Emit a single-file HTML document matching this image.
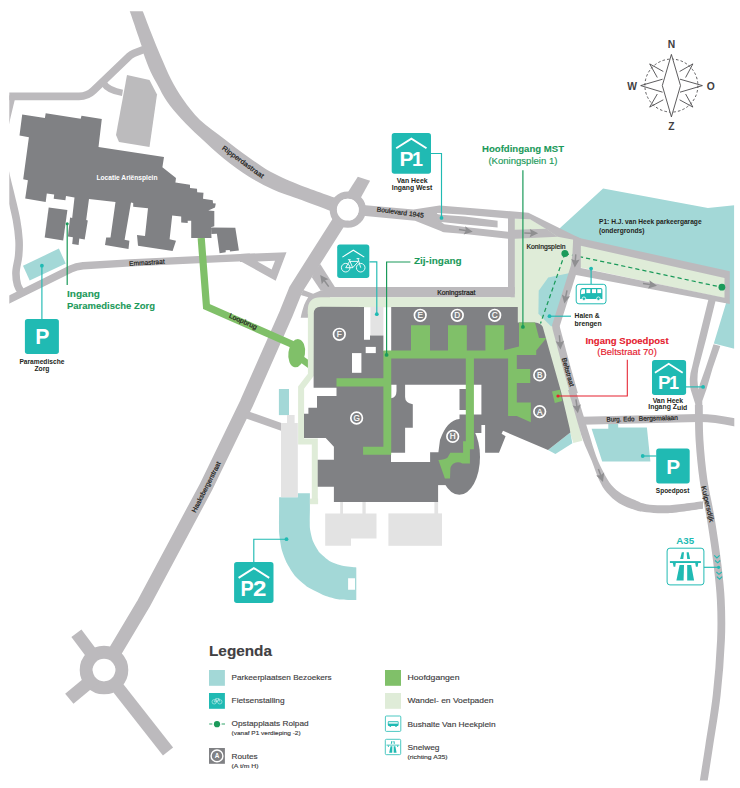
<!DOCTYPE html>
<html lang="nl"><head><meta charset="utf-8"><title>Plattegrond MST</title>
<style>
html,body{margin:0;padding:0;background:#fff;}
body{width:740px;height:788px;overflow:hidden;font-family:"Liberation Sans",sans-serif;}
svg{display:block;position:absolute;left:0;top:0;}
text{font-family:"Liberation Sans",sans-serif;}
.b{font-weight:bold;}
.slab{font-family:"Liberation Sans","DejaVu Sans",sans-serif;font-weight:bold;}
</style></head><body>
<svg width="740" height="788" viewBox="0 0 740 788">
<defs><clipPath id="mapclip"><rect x="9.3" y="11.3" width="725" height="769.2"/></clipPath></defs>
<rect width="740" height="788" fill="#fff"/>
<g clip-path="url(#mapclip)">
<g fill="#dfecd8">
<path d="M510,330 L510,219 L530,219 L546,228.6 L575,240 L575,268 L556,327 L582.4,440.7 L573.3,443 L560,400 L540,330 Z"/>
<polygon points="578.0,244.0 725.0,277.5 725.0,298.3 578.0,267.0" fill="#dfecd8" />
</g>
<g fill="#a3d8d7">
<polygon points="603.1,188.5 707.9,208.0 734.3,205.2 734.4,348.8 713.8,343.5 727.0,300.0 727.0,275.0 580.5,244.0 562.0,232.0 559.5,228.5" fill="#a3d8d7" />
<polygon points="548.2,277.5 570.0,273.0 562.2,300.0 554.0,326.3 551.0,326.3 538.4,313.8 538.7,290.7" fill="#a3d8d7" />
<polygon points="23.0,265.7 58.9,248.6 65.7,263.5 29.7,280.5" fill="#a3d8d7" />
<polygon points="591.6,428.8 608.3,428.8 608.3,424.0 618.2,424.0 618.2,427.5 646.9,427.5 650.4,461.6 602.2,461.6" fill="#a3d8d7" />
<polygon points="548.0,450.0 555.4,454.0 572.4,443.2 570.3,432.4" fill="#a3d8d7" />
<rect x="278.9" y="389" width="10.1" height="26.1"/>
<path fill-rule="evenodd" d="M279.1,497.3 L297.8,497.3 L297.8,493.2 L309.9,493.2 L309.9,510 L309.9,510.0 C309.9,511.5 309.6,525.3 309.9,527.9 C310.1,530.5 312.1,538.9 312.9,541.0 C313.7,543.1 318.1,550.9 319.5,552.6 C320.9,554.3 327.5,559.8 329.4,560.9 C331.3,562.0 340.4,565.2 342.6,565.8 C344.8,566.3 355.2,567.4 356.3,567.5 L356.3,600.1 L356.3,600.1 C354.9,600.1 341.9,600.0 339.3,599.6 C336.7,599.2 327.1,596.5 324.5,595.5 C321.9,594.5 310.5,588.9 308.0,587.3 C305.5,585.6 296.6,577.8 294.8,575.7 C293.0,573.6 287.6,564.7 286.5,562.5 C285.4,560.3 282.2,551.8 281.6,549.3 C281.0,546.8 279.3,536.1 279.1,532.8 C278.9,529.5 279.1,511.9 279.1,510.0 L279.1,497.3 Z M348.1,578.2 L355,578.2 L355,589.7 L348.1,589.7 Z"/>
</g>
<polyline points="564.9,253.5 722.0,287.3" fill="none" stroke="#1b9a5a" stroke-width="1.25" stroke-dasharray="4.2 3"/>
<polyline points="564.9,253.5 540.5,323.5" fill="none" stroke="#1b9a5a" stroke-width="1.25" stroke-dasharray="4.2 3"/>
<g fill="none" stroke="#bcbabd" stroke-linejoin="round">
<path d="M127.7,5.0 C128.1,6.1 127.7,5.0 130.0,11.8 C132.3,18.6 139.3,38.7 141.6,45.7 C143.9,52.7 142.1,49.4 143.6,53.8 C145.1,58.2 148.3,66.8 150.7,72.0 C153.1,77.2 155.1,80.3 157.8,85.2 C160.5,90.1 163.1,95.9 167.0,101.5 C170.9,107.1 175.7,112.7 181.2,118.7 C186.7,124.7 192.8,130.6 200.0,137.3 C207.2,144.0 216.2,152.5 224.3,159.0 C232.4,165.5 240.5,171.3 248.6,176.4 C256.7,181.5 264.9,185.8 273.0,189.5 C281.1,193.2 287.0,194.7 297.3,198.5 C307.6,202.3 328.7,210.2 335.0,212.5 L340.0,199.5 C332.9,196.9 308.9,188.5 297.3,183.9 C285.7,179.3 278.6,176.2 270.5,171.8 C262.4,167.4 256.3,162.7 248.6,157.2 C240.9,151.7 232.4,145.1 224.3,138.9 C216.2,132.7 206.8,126.6 200.0,120.0 C193.2,113.4 188.0,106.3 183.2,99.5 C178.4,92.7 174.7,86.3 171.0,79.2 C167.3,72.1 164.1,64.2 160.9,56.8 C157.7,49.3 154.8,42.0 151.8,34.5 C148.8,27.0 144.9,16.7 143.0,11.8 C141.1,6.9 140.8,6.1 140.4,5.0 Z" fill="#bcbabd" stroke="none"/>
<path d="M5,96.4 L79,96.4 Q87.5,96.4 93.5,90.5 L129.5,56 Q131.5,54.2 134,53.2 L145,49" stroke-width="7.6"/>
<path d="M103.5,83 Q108,90.5 122.5,92.8" stroke-width="6.4"/>
<path d="M11.8,96.0 C11.0,99.3 8.5,109.3 7.0,116.0 C5.5,122.7 3.8,129.5 3.0,136.0 C2.2,142.5 2.0,148.3 2.5,155.0 C3.0,161.7 4.7,169.0 6.2,176.0 C7.7,183.0 9.6,189.7 11.3,197.0 C13.0,204.3 15.2,212.8 16.5,220.0 C17.8,227.2 18.6,234.0 19.0,240.0 C19.4,246.0 19.1,250.7 18.6,256.0 C18.1,261.3 16.2,267.2 16.0,272.0 C15.8,276.8 16.5,281.5 17.5,285.0 C18.5,288.5 21.2,291.7 22.0,293.0" fill="none" stroke="#bcbabd" stroke-width="7.6" />
<path d="M5,301.7 L71,268.9 Q76,266.4 83,265.7 L130,262.9 L220,258.6 L250,257.3" stroke-width="7.4"/>
<polyline points="347.6,210.3 337.7,223.6 295.8,289.6 286.3,313.2 246.7,402.9 206.0,486.9 143.8,603.3 104.0,670.0" fill="none" stroke="#bcbabd" stroke-width="13.8" />
<polyline points="246.0,414.5 283.0,427.5" fill="none" stroke="#bcbabd" stroke-width="7.6" />
<circle cx="104" cy="670" r="17.8" stroke-width="13"/>
<polyline points="104.0,670.0 76.4,633.3" fill="none" stroke="#bcbabd" stroke-width="12.6" />
<polyline points="104.0,670.0 69.3,698.8" fill="none" stroke="#bcbabd" stroke-width="13" />
<polyline points="104.0,670.0 168.0,751.5" fill="none" stroke="#bcbabd" stroke-width="12.9" />
<circle cx="347.8" cy="209.7" r="14.5" stroke-width="7.3"/>
<polygon points="357.8,176.7 370.1,180.7 359.0,201.0 345.5,196.0" fill="#bcbabd" stroke="none"/>
<polyline points="577.0,238.0 576.3,253.0 574.6,266.5 555.9,325.5 556.3,328.5 566.3,366.0 574.2,394.0" fill="none" stroke="#bcbabd" stroke-width="7.6" stroke-linejoin="miter"/>
<path d="M568.0,390.0 C568.5,391.6 569.6,395.0 571.0,399.6 C572.4,404.2 574.3,411.0 576.3,417.9 C578.3,424.8 580.7,433.6 583.2,440.7 C585.8,447.8 588.9,453.9 591.6,460.5 C594.3,467.1 596.7,475.0 599.2,480.3 C601.7,485.6 603.5,488.7 606.8,492.5 C610.1,496.3 614.3,500.3 619.0,503.2 C623.7,506.1 630.4,508.5 635.0,510.0 C639.6,511.5 641.0,511.7 646.5,512.2 C652.0,512.7 658.7,513.8 668.1,513.2 C677.5,512.6 697.2,509.4 703.0,508.7 L703.0,501.2 C697.2,501.9 677.5,504.7 668.1,505.2 C658.7,505.7 652.0,505.0 646.5,504.2 C641.0,503.4 639.1,501.8 635.0,500.1 C630.9,498.4 625.9,496.5 622.0,494.0 C618.1,491.5 614.4,488.4 611.4,484.9 C608.4,481.3 606.3,477.5 603.8,472.7 C601.2,467.9 598.5,462.4 596.1,456.0 C593.7,449.6 591.4,441.5 589.3,434.6 C587.1,427.7 585.0,420.6 583.2,414.8 C581.4,409.0 579.9,403.7 578.6,399.6 C577.3,395.5 576.1,391.6 575.6,390.0 Z" fill="#bcbabd" stroke="none"/>
<path d="M582,420.8 L698.4,417.9 Q712,417.6 736,422.5" stroke-width="8"/>
<path d="M698.8,405.0 C698.9,410.8 698.7,427.5 699.5,440.0 C700.3,452.5 701.6,466.7 703.5,480.0 C705.4,493.3 708.7,505.8 711.0,520.0 C713.3,534.2 715.9,551.7 717.5,565.0 C719.1,578.3 720.2,587.5 720.8,600.0 C721.4,612.5 721.7,624.2 721.0,640.0 C720.3,655.8 718.7,677.5 716.7,695.0 C714.8,712.5 711.5,730.3 709.3,745.0 C707.1,759.7 704.4,776.7 703.4,783.0" fill="none" stroke="#bcbabd" stroke-width="7.8" />
<path fill-rule="evenodd" stroke="none" fill="#bcbabd" d="M575,236 L580.5,238.3 L729.8,271.2 L729.8,303.9 L574.7,274.8 Z M580.8,245.7 L724.5,278 L724.5,297.8 L580.8,268.1 Z"/>
</g>
<circle cx="347.8" cy="209.7" r="10.9" fill="#fff"/><circle cx="104" cy="670" r="11.3" fill="#fff"/>
<g fill="#bcbabd">
<path d="M708.5,299 L698.4,339.7 L692.3,366 Q688,380 690.8,390 L695.2,403.7 L695.2,416 L702.3,416 L702.3,401 L706.4,389.5 L712.6,368.2 L720.3,346 L713.5,344.2 L705.5,368.2 L699.8,384.2 L698.8,389.5 Q696.3,381 698.4,368.2 L706.4,338 L716,299 Z"/>
<path fill-rule="evenodd" d="M240,253.9 L286.5,252.3 L275.7,280.7 L241.9,262 L240,262 Z M257.4,261.4 L275,260.8 L271.6,269.5 Z"/>
<polygon points="320.2,263.9 334.9,287.0 334.9,293.0 320.7,290.6 311.8,277.2 315.0,270.0" fill="#bcbabd" />
<path d="M303.3,290.1 L313.1,293.7 L320.7,290.6 L330,290 L330,300 L315,312 L307.8,317.7 L300.7,317.7 Q301.6,312.8 304.2,304.8 Q306,300.5 308.2,297.2 L300.7,295 Z"/>
<polygon points="360.0,204.7 413.5,209.5 439.5,205.4 528.4,212.7 580.5,238.6 581.0,246.0 573.8,246.0 573.6,239.8 557.6,236.8 546.2,228.9 530.0,219.2 508.0,218.6 465.0,214.7 436.9,213.1 439.0,217.0 441.2,222.0 444.3,224.3 443.9,232.3 415.0,220.8 360.0,215.4" fill="#bcbabd" />
<polygon points="441.5,224.6 444.3,224.3 465.0,227.0 508.0,231.8 515.0,229.7 546.2,228.8 557.6,236.8 515.0,238.8 508.0,238.8 465.0,233.9 443.9,232.3 441.5,231.0" fill="#bcbabd" />
<polygon points="435.0,213.8 441.2,214.7 465.0,216.6 497.6,220.8 497.6,227.6 465.0,224.5 441.2,222.0 437.0,221.0" fill="#bcbabd" />
<rect x="508" y="216" width="6.8" height="78"/>
<rect x="325" y="287" width="189.8" height="10.3"/>
</g>
</g>
<polyline points="201.2,238.0 206.5,306.5 296.0,346.0" fill="none" stroke="#80c069" stroke-width="7.2" stroke-linejoin="miter"/>
<ellipse fill="#80c069" cx="296.7" cy="353.2" rx="8.3" ry="14.2" transform="rotate(8 296.7 353.2)"/>
<polyline points="300.0,358.0 311.0,366.0" fill="none" stroke="#80c069" stroke-width="6.5" />
<g fill="#dfecd8">
<path d="M307.8,312 L307.8,310.2 Q307.8,297.2 320.8,297.2 L511,297.2 L511,307.2 L322,307.2 L314.5,314 L307.8,314 Z"/>
<path d="M310.9,310 L310.9,374.8 L301.1,387.6 L301.1,441.6 L314.8,441.6 L314.8,504" fill="none" stroke="#dfecd8" stroke-width="6"/>
<rect x="309.9" y="498.6" width="8.2" height="5.6"/>
</g>
<g fill="#bcbbbd">
<polygon points="127.0,75.0 149.5,80.0 157.0,94.5 149.5,147.0 119.0,142.0 116.0,135.0" fill="#bcbbbd" />
</g>
<g fill="#e3e3e3">
<rect x="370.4" y="306.9" width="13" height="28.5"/>
<path d="M281,423 L287,423 L287,415 L294.6,415 L294.6,423 L297.8,423 L297.8,497.3 L281,497.3 Z"/>
<path d="M325.2,513.4 L376.5,513.4 L376.5,538.6 L351,538.6 L351,545.8 L325.2,545.8 Z"/>
<rect x="340.2" y="501" width="2.8" height="13"/><rect x="362.4" y="501" width="3.3" height="13"/>
<rect x="388.4" y="513.4" width="53.6" height="32.4"/><rect x="434.4" y="501" width="3.7" height="13"/>
</g>
<g fill="#808184">
<polygon points="22.2,114.6 44.9,117.9 45.7,113.2 80.7,118.7 81.5,115.8 101.8,118.9 98.5,147.1 164.0,157.0 162.4,167.2 176.0,178.0 175.4,182.5 190.0,184.7 190.0,188.0 197.0,188.8 197.2,192.2 203.5,192.7 203.0,198.8 212.8,200.3 213.0,203.2 215.8,203.5 215.0,207.4 208.3,210.4 214.3,211.0 214.3,226.2 211.0,227.2 211.5,238.1 191.2,238.1 191.2,220.8 187.7,220.8 187.7,223.0 181.2,222.5 181.2,216.5 172.2,215.4 169.6,239.2 176.0,240.7 172.6,251.0 138.0,245.7 137.0,235.0 145.0,236.0 148.0,208.3 133.2,206.8 133.2,203.0 131.0,202.4 124.6,239.8 129.4,240.7 128.5,249.0 105.0,245.0 106.2,237.5 110.5,237.5 115.5,202.0 89.0,199.0 86.2,220.1 87.8,220.5 84.7,239.4 79.3,238.4 78.6,245.1 72.2,244.1 72.9,237.3 67.9,236.4 70.1,217.6 72.2,217.9 74.5,197.4 66.0,196.1 65.4,200.2 53.7,198.7 54.2,194.5 46.8,193.6 45.7,202.1 25.2,198.5 27.9,180.2 23.2,179.2 28.9,137.2 19.5,135.5" fill="#808184" />
<polygon points="48.7,207.5 67.4,210.1 63.2,240.6 44.7,237.6" fill="#808184" />
<polygon points="211.0,227.5 235.3,227.7 238.9,250.5 230.0,251.6 229.7,250.0 225.7,250.3 225.7,252.3 219.6,253.2 216.9,233.8 211.3,234.1" fill="#808184" />
</g>
<g fill="#808184">
<path d="M313.8,313.6 Q313.8,306.7 320.8,306.7 L364,306.9 L364,339.7 L370,339.7 L370,335.4 L383.4,335.4 L383.4,351 L391.2,351 L391.2,306.9 L517.8,306.9 L517.8,322.6 L535,322.6 Q541,323.5 542.7,326.8 L561,391.6 L569.7,428.4 L570.3,432.4 L548,450 L503,430.8 L501.6,433.8 L505.6,436.2 L499,452.7 L485.1,452.7 L485.1,425 L481.4,425 L481.4,433.1 L470,433.1 L470,470 L438.1,470 L438.1,501.9 L333.9,501.9 L333.9,486.8 L317.7,486.8 L317.7,459.7 L333.9,459.7 L333.9,446.8 L325.7,438.1 L304,438.1 L304,413.7 L308.4,413.7 L308.4,407.8 L317,407.8 L317,396 L336.5,396 L336.5,387.7 L313.6,387.7 Z"/>
<ellipse cx="459.3" cy="457" rx="20.7" ry="37.8"/>
<rect x="436" y="452" width="10" height="33.1"/>
</g>
<g fill="#fff">
<rect x="365.7" y="346.9" width="10.1" height="6.2"/><rect x="352" y="353.1" width="9.4" height="19.7"/>
<path d="M391.2,384.7 L396.5,384.7 L396.5,391 Q396.5,397.5 391.2,398.2 Z"/>
<path d="M405.1,384.7 L481.4,384.7 L481.4,414.6 L459.5,414.6 L459.5,419 Q447,420 440,440 L438.4,452.2 L430.1,452.2 L430.1,461.9 L391,461.9 L391,452.8 L405.1,452.8 L405.1,427.7 L412.8,427.7 L412.8,404.2 Q405.1,403 405.1,397 Z"/>
</g>
<g fill="#808184">
<rect x="459.5" y="389" width="6.5" height="21"/>
</g>
<g fill="#80c069">
<path d="M383.4,350.4 L411,350.4 L411,325.2 L430,325.2 L430,350.4 L448,350.4 L448,325.2 L466.8,325.2 L466.8,350.4 L485.4,350.4 L485.4,325.2 L504.2,325.2 L504.2,350.2 L519,346.6 L519,322.6 L535,322.6 L539,338 L546.4,338 L536.2,350.5 L536.2,354.9 L516.8,354.9 L516.8,368.9 L530.2,368.9 L530.2,383 L516.8,383 L516.8,402.4 L530.8,402.4 L530.8,422.3 L516.8,416 L508.1,416 L508.1,358.4 L473.9,358.4 L473.9,449.3 L469.9,449.3 L469.9,463.5 L462.4,463.5 Q458.4,461 453.6,463.5 Q450,466 450.3,470.3 L450,478.4 L444.9,478.4 L438.4,460.1 Q445,459.5 447.6,457.4 L450.3,452.7 L463.1,452.7 L463.1,441.2 L465.8,441.2 L465.8,358.4 L391.2,358.4 L391.2,454.8 L363.1,454.8 L363.1,446.8 L383.4,446.8 L383.4,386.6 L336.5,386.6 L336.5,378.2 L383.4,378.2 Z"/>
<polygon points="552.0,391.6 559.8,389.8 562.2,400.9 554.8,403.1" fill="#80c069" />
</g>
<g fill="none" stroke-width="0.9">
<polyline points="431.0,153.5 441.5,153.5 441.5,217.9" fill="none" stroke="#20bab3" stroke-width="1.15" />
<polyline points="369.5,261.9 376.8,261.9 376.8,314.0" fill="none" stroke="#20bab3" stroke-width="1.15" />
<polyline points="410.4,262.0 386.6,262.0 386.6,354.9" fill="none" stroke="#1b9a5a" stroke-width="1.2" />
<polyline points="522.9,170.3 522.9,326.9" fill="none" stroke="#1b9a5a" stroke-width="1.2" />
<polyline points="67.2,223.8 67.2,285.0" fill="none" stroke="#1b9a5a" stroke-width="1.2" />
<polyline points="41.9,265.7 41.9,319.0" fill="none" stroke="#20bab3" stroke-width="1.15" />
<polyline points="253.8,562.0 253.8,539.2 286.5,539.2" fill="none" stroke="#20bab3" stroke-width="1.15" />
<polyline points="591.1,268.6 591.1,284.3" fill="none" stroke="#20bab3" stroke-width="1.15" />
<polyline points="549.5,316.2 571.0,316.2" fill="none" stroke="#20bab3" stroke-width="1.15" />
<polyline points="686.0,386.9 703.1,386.9" fill="none" stroke="#20bab3" stroke-width="1.15" />
<polyline points="642.7,456.0 656.5,456.0" fill="none" stroke="#20bab3" stroke-width="1.15" />
<polyline points="703.9,567.3 718.6,567.3" fill="none" stroke="#20bab3" stroke-width="1.15" />
<polyline points="627.3,359.7 627.3,396.0 557.8,396.0" fill="none" stroke="#e5202e" stroke-width="1.05" />
</g>
<circle cx="441.5" cy="217.9" r="1.9" fill="#20bab3"/>
<circle cx="376.8" cy="314.2" r="1.9" fill="#20bab3"/>
<circle cx="386.6" cy="354.9" r="1.9" fill="#1b9a5a"/>
<circle cx="522.9" cy="326.9" r="1.9" fill="#1b9a5a"/>
<circle cx="67.2" cy="223.8" r="1.5" fill="#1b9a5a"/>
<circle cx="41.9" cy="265.7" r="1.9" fill="#20bab3"/>
<circle cx="286.5" cy="539.2" r="1.9" fill="#20bab3"/>
<circle cx="591.1" cy="268.6" r="1.9" fill="#20bab3"/>
<circle cx="549.5" cy="316.2" r="1.9" fill="#20bab3"/>
<circle cx="703.1" cy="386.9" r="1.9" fill="#20bab3"/>
<circle cx="642.7" cy="456.0" r="1.9" fill="#20bab3"/>
<circle cx="718.6" cy="567.3" r="1.6" fill="#20bab3"/>
<circle cx="558.0" cy="396.0" r="1.6" fill="#e5202e"/>
<circle cx="564.9" cy="253.5" r="3.5" fill="#1b9a5a"/>
<circle cx="721.9" cy="287.2" r="3.4" fill="#1b9a5a"/>
<g transform="translate(472.7 231.8) rotate(9.9)" fill="#8f8f91"><polygon points="0,0 -8.4,-4.2 -7.2,-0.75 -14,-0.75 -14,0.75 -7.2,0.75 -8.4,4.2"/></g>
<g transform="translate(538.1 233.3) rotate(1.2)" fill="#8f8f91"><polygon points="0,0 -8.4,-4.2 -7.2,-0.75 -13.8,-0.75 -13.8,0.75 -7.2,0.75 -8.4,4.2"/></g>
<g transform="translate(574.8 267.6) rotate(94.3)" fill="#8f8f91"><polygon points="0,0 -8.4,-4.2 -7.2,-0.75 -13.3,-0.75 -13.3,0.75 -7.2,0.75 -8.4,4.2"/></g>
<g transform="translate(564.3 303.6) rotate(101.5)" fill="#8f8f91"><polygon points="0,0 -8.4,-4.2 -7.2,-0.75 -13.5,-0.75 -13.5,0.75 -7.2,0.75 -8.4,4.2"/></g>
<g transform="translate(560.5 349.4) rotate(85.5)" fill="#8f8f91"><polygon points="0,0 -8.4,-4.2 -7.2,-0.75 -14.2,-0.75 -14.2,0.75 -7.2,0.75 -8.4,4.2"/></g>
<g transform="translate(657.0 285.7) rotate(9.0)" fill="#8f8f91"><polygon points="0,0 -8.4,-4.2 -7.2,-0.75 -14.2,-0.75 -14.2,0.75 -7.2,0.75 -8.4,4.2"/></g>
<g transform="translate(577.9 413.2) rotate(82.0)" fill="#8f8f91"><polygon points="0,0 -8.4,-4.2 -7.2,-0.75 -14,-0.75 -14,0.75 -7.2,0.75 -8.4,4.2"/></g>
<g transform="translate(603.0 481.9) rotate(70.5)" fill="#8f8f91"><polygon points="0,0 -8.4,-4.2 -7.2,-0.75 -13.8,-0.75 -13.8,0.75 -7.2,0.75 -8.4,4.2"/></g>
<g transform="translate(320.2 275.0) rotate(-126.2)" fill="#8f8f91"><polygon points="0,0 -8.4,-4.2 -7.2,-0.75 -14.4,-0.75 -14.4,0.75 -7.2,0.75 -8.4,4.2"/></g>
<rect x="391.7" y="133.0" width="39.3" height="40.8" rx="2.7" fill="#20bab3"/>
<polyline points="396.2,148.3 411.4,138.6 426.5,148.3" fill="none" stroke="#fff" stroke-width="1.9"/>
<text x="399.6" y="166.0" font-size="21" fill="#fff" font-weight="bold" font-family='"Liberation Sans",sans-serif'>P</text>
<text x="412.0" y="166.0" font-size="19.8" fill="#fff" font-weight="bold" font-family='"DejaVu Serif","Liberation Serif",serif'>1</text>
<rect x="652.0" y="360.0" width="34.1" height="35.0" rx="2.7" fill="#20bab3"/>
<polyline points="654.9,372.7 668.7,363.8 682.7,372.7" fill="none" stroke="#fff" stroke-width="1.9"/>
<text x="658.1" y="389.4" font-size="19" fill="#fff" font-weight="bold" font-family='"Liberation Sans",sans-serif'>P</text>
<text x="669.0" y="389.4" font-size="18" fill="#fff" font-weight="bold" font-family='"DejaVu Serif","Liberation Serif",serif'>1</text>
<rect x="234.1" y="562.1" width="39.4" height="40.9" rx="2.7" fill="#20bab3"/>
<polyline points="238.6,577.9 253.8,568.1 269.2,577.9" fill="none" stroke="#fff" stroke-width="1.9"/>
<text x="240.4" y="595.6" font-size="21.8" fill="#fff" font-weight="bold" font-family='"Liberation Sans",sans-serif' textLength="13.2" lengthAdjust="spacingAndGlyphs">P</text>
<text x="252.9" y="595.6" font-size="21.8" fill="#fff" font-weight="bold" font-family='"Liberation Sans",sans-serif' textLength="13.4" lengthAdjust="spacingAndGlyphs">2</text>
<rect x="24.9" y="319.0" width="34.0" height="35.0" rx="2.7" fill="#20bab3"/>
<text x="35.2" y="343.9" font-size="21.2" fill="#fff" font-weight="bold" font-family='"Liberation Sans",sans-serif'>P</text>
<rect x="656.2" y="448.4" width="33.5" height="35.0" rx="2.7" fill="#20bab3"/>
<text x="666.3" y="473.9" font-size="20.8" fill="#fff" font-weight="bold" font-family='"Liberation Sans",sans-serif'>P</text>
<rect x="337.2" y="244.6" width="32.1" height="33.4" rx="2.7" fill="#20bab3"/>
<g fill="none" stroke="#fff" stroke-width="0.9">
<polyline points="342.4,257.1 353.3,250.2 364.3,257.1" stroke-width="1.1"/>
<circle cx="345.7" cy="267.7" r="4.3"/><circle cx="360.7" cy="267.7" r="4.3"/>
<path d="M345.7,267.7 L349.5,261.4 L358.4,261.4 L352.7,267.7 L345.7,267.7 M349.3,259.8 L352.7,267.7 M358,258.6 L360.7,267.7 M356.6,258.6 L359.4,258.6 M347.9,259.7 L350.7,259.7"/>
</g>
<rect x="576.2" y="284.3" width="29.8" height="19.5" rx="2.7" fill="#fff" stroke="#20bab3" stroke-width="1"/>
<path d="M582.2,288 L600.6,288 Q602.4,288 602.4,289.8 L602.4,299 L580.1,299 L580.1,290.6 Q580.4,288 582.2,288 Z" fill="#20bab3"/>
<g fill="#fff"><polygon points="582,289.2 585,289.2 585,293.4 581,294.2 581.2,290.8"/><rect x="586.4" y="289.2" width="3.9" height="3.9"/><rect x="592" y="289.2" width="4" height="3.9"/><rect x="597.3" y="289.2" width="3.9" height="3.9"/></g>
<circle cx="583.9" cy="298.7" r="1.75" fill="#20bab3" stroke="#fff" stroke-width="0.8"/><circle cx="598.4" cy="298.7" r="1.75" fill="#20bab3" stroke="#fff" stroke-width="0.8"/>
<g transform="translate(667.10 548.20) scale(1.0000)">
<rect x="0" y="0" width="36.8" height="36.7" rx="2.8" fill="#fff" stroke="#20bab3" stroke-width="1.00"/>
<g fill="#20bab3"><polygon points="14.7,4 16.9,4 16.2,10.8 13,10.8"/><polygon points="19.5,4 21.6,4 23,10.8 20.1,10.8"/><rect x="2.8" y="12.9" width="31" height="1.9"/><polygon points="5.7,14.8 8.7,14.8 8.2,18.6 6.5,18.6"/><polygon points="28.1,14.8 31.1,14.8 30.6,18.6 28.8,18.6"/><polygon points="12.5,16.9 16.9,16.9 16.5,32.4 9.3,32.4"/><polygon points="20.1,16.9 24.1,16.9 27,32.4 20.1,32.4"/></g>
</g>
<g fill="none" stroke="#20bab3" stroke-width="1.1"><polyline points="714.2,555.4 716.9,557.9 719.6,555.4"/><polyline points="715,560.5 717.7,562.8 720.2,560.5"/><polyline points="716.4,572 719,574.3 721.8,572"/><polyline points="716.8,576.7 719.6,579.2 722.2,576.7"/></g>
<g fill="none" stroke="#414042" stroke-width="0.85">
<circle cx="671.4" cy="85.6" r="26.5" stroke-dasharray="2.5 2.1"/>
<polygon points="671.4,54.4 680.5,85.6 671.4,116.9 662.3,85.6" fill="#fff"/>
<polyline points="680,79.2 702.4,85.6 680,92.2"/><polyline points="662.6,79.2 640.7,85.6 662.6,92.2"/>
<polyline points="679.6,71.5 692.9,63.9 685.6,77.5"/><polyline points="663.3,71.5 649.7,63.9 657.3,77.5"/>
<polyline points="679.6,99.8 692.9,107.1 685.6,94"/><polyline points="663.3,99.8 649.7,107.1 657.3,94"/>
</g>
<text x="671.4" y="47.9" font-size="10.3" fill="#414042" class="b" text-anchor="middle">N</text>
<text x="671.4" y="129.9" font-size="10.3" fill="#414042" class="b" text-anchor="middle">Z</text>
<text x="632.2" y="89.8" font-size="10.3" fill="#414042" class="b" text-anchor="middle">W</text>
<text x="710.8" y="89.8" font-size="10.3" fill="#414042" class="b" text-anchor="middle">O</text>
<circle cx="339.3" cy="334.3" r="5.8" fill="none" stroke="#fff" stroke-width="1.7"/>
<text x="339.3" y="337.2" font-size="8.2" fill="#fff" text-anchor="middle" stroke="#fff" stroke-width="0.2">F</text>
<circle cx="420.2" cy="315.3" r="5.8" fill="none" stroke="#fff" stroke-width="1.7"/>
<text x="420.2" y="318.2" font-size="8.2" fill="#fff" text-anchor="middle" stroke="#fff" stroke-width="0.2">E</text>
<circle cx="457.3" cy="315.3" r="5.8" fill="none" stroke="#fff" stroke-width="1.7"/>
<text x="457.3" y="318.2" font-size="8.2" fill="#fff" text-anchor="middle" stroke="#fff" stroke-width="0.2">D</text>
<circle cx="494.7" cy="315.3" r="5.8" fill="none" stroke="#fff" stroke-width="1.7"/>
<text x="494.7" y="318.2" font-size="8.2" fill="#fff" text-anchor="middle" stroke="#fff" stroke-width="0.2">C</text>
<circle cx="539.7" cy="374.9" r="5.8" fill="none" stroke="#fff" stroke-width="1.7"/>
<text x="539.7" y="377.8" font-size="8.2" fill="#fff" text-anchor="middle" stroke="#fff" stroke-width="0.2">B</text>
<circle cx="539.7" cy="411.6" r="5.8" fill="none" stroke="#fff" stroke-width="1.7"/>
<text x="539.7" y="414.5" font-size="8.2" fill="#fff" text-anchor="middle" stroke="#fff" stroke-width="0.2">A</text>
<circle cx="356.6" cy="418.0" r="5.8" fill="none" stroke="#fff" stroke-width="1.7"/>
<text x="356.6" y="420.9" font-size="8.2" fill="#fff" text-anchor="middle" stroke="#fff" stroke-width="0.2">G</text>
<circle cx="452.7" cy="436.4" r="5.8" fill="none" stroke="#fff" stroke-width="1.7"/>
<text x="452.7" y="439.3" font-size="8.2" fill="#fff" text-anchor="middle" stroke="#fff" stroke-width="0.2">H</text>
<text x="96.5" y="180.2" font-size="7" fill="#fff" class="b" textLength="61.0" lengthAdjust="spacingAndGlyphs">Locatie Ariënsplein</text>
<text x="412.2" y="182.7" font-size="6.5" fill="#231f20" class="b" textLength="30.8" lengthAdjust="spacingAndGlyphs" text-anchor="middle">Van Heek</text>
<text x="412.0" y="189.7" font-size="6.5" fill="#231f20" class="b" textLength="40.5" lengthAdjust="spacingAndGlyphs" text-anchor="middle">Ingang West</text>
<text x="667.9" y="402.8" font-size="6.5" fill="#231f20" class="b" textLength="30.4" lengthAdjust="spacingAndGlyphs" text-anchor="middle">Van Heek</text>
<text x="648.3" y="408.8" font-size="6.5" fill="#231f20" class="b" textLength="39" lengthAdjust="spacingAndGlyphs">Ingang Z<tspan dy="0.9">uid</tspan></text>
<text x="41.9" y="364.0" font-size="6.5" fill="#231f20" class="b" textLength="45.0" lengthAdjust="spacingAndGlyphs" text-anchor="middle">Paramedische</text>
<text x="41.9" y="371.4" font-size="6.5" fill="#231f20" class="b" textLength="15.0" lengthAdjust="spacingAndGlyphs" text-anchor="middle">Zorg</text>
<text x="672.6" y="492.7" font-size="6.5" fill="#231f20" class="b" textLength="33.5" lengthAdjust="spacingAndGlyphs" text-anchor="middle">Spoedpost</text>
<text x="599.0" y="224.3" font-size="6.6" fill="#231f20" class="b" textLength="102.6" lengthAdjust="spacingAndGlyphs">P1: H.J. van Heek parkeergarage</text>
<text x="599.0" y="233.0" font-size="6.6" fill="#231f20" class="b" textLength="45.5" lengthAdjust="spacingAndGlyphs">(ondergronds)</text>
<text x="574.6" y="317.6" font-size="6.6" fill="#231f20" class="b" textLength="25.0" lengthAdjust="spacingAndGlyphs">Halen &amp;</text>
<text x="574.6" y="325.7" font-size="6.6" fill="#231f20" class="b" textLength="27.0" lengthAdjust="spacingAndGlyphs">brengen</text>
<text x="482.0" y="152.2" font-size="9.4" fill="#1b9a5a" class="slab" textLength="82.0" lengthAdjust="spacingAndGlyphs" stroke="#1b9a5a" stroke-width="0.1">Hoofdingang MST</text>
<text x="488.4" y="164.0" font-size="9.3" fill="#1b9a5a" textLength="69.0" lengthAdjust="spacingAndGlyphs" stroke="#1b9a5a" stroke-width="0.15">(Koningsplein 1)</text>
<text x="585.4" y="344.0" font-size="9.4" fill="#e5202e" class="slab" textLength="83.2" lengthAdjust="spacingAndGlyphs" stroke="#e5202e" stroke-width="0.1">Ingang Spoedpost</text>
<text x="597.3" y="355.4" font-size="9.3" fill="#e5202e" textLength="59.5" lengthAdjust="spacingAndGlyphs" stroke="#e5202e" stroke-width="0.15">(Beltstraat 70)</text>
<text x="414.0" y="264.2" font-size="9.4" fill="#1b9a5a" class="slab" textLength="47.6" lengthAdjust="spacingAndGlyphs" stroke="#1b9a5a" stroke-width="0.1">Zij-ingang</text>
<text x="67.0" y="297.3" font-size="9.4" fill="#1b9a5a" class="slab" textLength="33.0" lengthAdjust="spacingAndGlyphs" stroke="#1b9a5a" stroke-width="0.1">Ingang</text>
<text x="67.0" y="309.0" font-size="9.4" fill="#1b9a5a" class="slab" textLength="88.0" lengthAdjust="spacingAndGlyphs" stroke="#1b9a5a" stroke-width="0.1">Paramedische Zorg</text>
<text x="685.2" y="543.8" font-size="9.2" fill="#20bab3" class="b" textLength="17.8" lengthAdjust="spacingAndGlyphs" text-anchor="middle">A35</text>
<text x="437.3" y="294.9" font-size="6.7" fill="#231f20" textLength="38.0" lengthAdjust="spacingAndGlyphs" stroke="#231f20" stroke-width="0.22">Koningstraat</text>
<text x="526.5" y="248.8" font-size="6.7" fill="#231f20" textLength="39.0" lengthAdjust="spacingAndGlyphs" stroke="#231f20" stroke-width="0.22">Koningsplein</text>
<text x="376.5" y="211.5" font-size="6.7" fill="#231f20" textLength="47.5" lengthAdjust="spacingAndGlyphs" transform="rotate(7.5 376.5 211.5)" stroke="#231f20" stroke-width="0.22">Boulevard 1945</text>
<text x="129.3" y="265.9" font-size="6.7" fill="#231f20" textLength="35.5" lengthAdjust="spacingAndGlyphs" transform="rotate(-3.5 129.3 265.9)" stroke="#231f20" stroke-width="0.22">Emmastraat</text>
<text x="221.5" y="149.0" font-size="6.7" fill="#231f20" textLength="50.0" lengthAdjust="spacingAndGlyphs" transform="rotate(36.0 221.5 149.0)" stroke="#231f20" stroke-width="0.22">Ripperdastraat</text>
<text x="228.5" y="317.3" font-size="6.7" fill="#231f20" textLength="30.0" lengthAdjust="spacingAndGlyphs" transform="rotate(24.0 228.5 317.3)" stroke="#231f20" stroke-width="0.22">Loopbrug</text>
<text x="195.5" y="513.0" font-size="6.7" fill="#231f20" textLength="56.0" lengthAdjust="spacingAndGlyphs" transform="rotate(-63.0 195.5 513.0)" stroke="#231f20" stroke-width="0.22">Haaksbergerstraat</text>
<text x="606.5" y="421.7" font-size="6.7" fill="#231f20" textLength="28.0" lengthAdjust="spacingAndGlyphs" transform="rotate(-1.0 606.5 421.7)" stroke="#231f20" stroke-width="0.22">Burg. Edo</text>
<text x="638.8" y="420.9" font-size="6.7" fill="#231f20" textLength="39.2" lengthAdjust="spacingAndGlyphs" transform="rotate(-1.5 638.8 420.9)" stroke="#231f20" stroke-width="0.22">Bergsmalaan</text>
<text x="701.3" y="486.5" font-size="6.7" fill="#231f20" textLength="37.0" lengthAdjust="spacingAndGlyphs" transform="rotate(77.0 701.3 486.5)" stroke="#231f20" stroke-width="0.22">Kuipersdijk</text>
<text x="561.8" y="358.5" font-size="6.7" fill="#231f20" textLength="29.5" lengthAdjust="spacingAndGlyphs" transform="rotate(74.0 561.8 358.5)" stroke="#231f20" stroke-width="0.22">Beltstraat</text>
<text x="209.0" y="656.4" font-size="15.5" fill="#414042" class="slab" textLength="63.0" lengthAdjust="spacingAndGlyphs" stroke="#414042" stroke-width="0.15">Legenda</text>
<rect x="209" y="670" width="15.9" height="15.8" fill="#a3d8d7"/>
<rect x="209" y="693" width="15.9" height="15.8" fill="#20bab3"/>
<g fill="none" stroke="#fff" stroke-width="0.45"><circle cx="214.2" cy="701.8" r="2.2"/><circle cx="219.8" cy="701.8" r="2.2"/><path d="M214.2,701.8 L215.8,698.6 L219,698.6 L217,701.8 Z M219.8,701.8 L219,698.6 M215.8,698.6 L217,701.8"/></g>
<path d="M209.2,724 L212.3,724 M221.6,724 L225,724" stroke="#1b9a5a" stroke-width="0.9"/>
<circle cx="217.0" cy="724.2" r="3.1" fill="#1b9a5a"/>
<rect x="209" y="748" width="15.9" height="15.8" fill="#808184"/>
<circle cx="217" cy="755.9" r="5.9" fill="none" stroke="#fff" stroke-width="1.4"/>
<text x="217.0" y="758.2" font-size="6.4" fill="#fff" class="b" text-anchor="middle">A</text>
<text x="231.6" y="680.0" font-size="8" fill="#414042" textLength="100.0" lengthAdjust="spacingAndGlyphs" stroke="#414042" stroke-width="0.15">Parkeerplaatsen Bezoekers</text>
<text x="231.6" y="702.9" font-size="8" fill="#414042" textLength="53.0" lengthAdjust="spacingAndGlyphs" stroke="#414042" stroke-width="0.15">Fietsenstalling</text>
<text x="231.6" y="725.8" font-size="8" fill="#414042" textLength="77.0" lengthAdjust="spacingAndGlyphs" stroke="#414042" stroke-width="0.15">Opstapplaats Rolpad</text>
<text x="231.6" y="734.8" font-size="5.9" fill="#414042" textLength="69.0" lengthAdjust="spacingAndGlyphs" stroke="#414042" stroke-width="0.15">(vanaf P1 verdieping -2)</text>
<text x="231.6" y="758.8" font-size="8" fill="#414042" textLength="26.0" lengthAdjust="spacingAndGlyphs" stroke="#414042" stroke-width="0.15">Routes</text>
<text x="231.6" y="767.7" font-size="5.9" fill="#414042" textLength="27.0" lengthAdjust="spacingAndGlyphs" stroke="#414042" stroke-width="0.15">(A t/m H)</text>
<rect x="385" y="670" width="16" height="15.8" fill="#80c069"/>
<rect x="385" y="693" width="16" height="15.8" fill="#dfecd8"/>
<rect x="385.4" y="716" width="15.4" height="15.4" rx="1" fill="#fff" stroke="#20bab3" stroke-width="0.8"/>
<rect x="387.8" y="721.3" width="10.8" height="4.6" rx="0.8" fill="#20bab3"/><rect x="388.6" y="722.2" width="9.2" height="1.4" fill="#fff"/><circle cx="390.3" cy="726" r="0.9" fill="#20bab3"/><circle cx="396" cy="726" r="0.9" fill="#20bab3"/>
<g transform="translate(385.30 739.30) scale(0.4185)">
<rect x="0" y="0" width="36.8" height="36.7" rx="2.8" fill="#fff" stroke="#20bab3" stroke-width="1.91"/>
<g fill="#20bab3"><polygon points="14.7,4 16.9,4 16.2,10.8 13,10.8"/><polygon points="19.5,4 21.6,4 23,10.8 20.1,10.8"/><rect x="2.8" y="12.9" width="31" height="1.9"/><polygon points="5.7,14.8 8.7,14.8 8.2,18.6 6.5,18.6"/><polygon points="28.1,14.8 31.1,14.8 30.6,18.6 28.8,18.6"/><polygon points="12.5,16.9 16.9,16.9 16.5,32.4 9.3,32.4"/><polygon points="20.1,16.9 24.1,16.9 27,32.4 20.1,32.4"/></g>
</g>
<text x="407.5" y="680.0" font-size="8" fill="#414042" textLength="52.0" lengthAdjust="spacingAndGlyphs" stroke="#414042" stroke-width="0.15">Hoofdgangen</text>
<text x="407.5" y="703.0" font-size="8" fill="#414042" textLength="86.0" lengthAdjust="spacingAndGlyphs" stroke="#414042" stroke-width="0.15">Wandel- en Voetpaden</text>
<text x="407.5" y="727.0" font-size="8" fill="#414042" textLength="88.0" lengthAdjust="spacingAndGlyphs" stroke="#414042" stroke-width="0.15">Bushalte Van Heekplein</text>
<text x="407.5" y="750.0" font-size="8" fill="#414042" textLength="32.0" lengthAdjust="spacingAndGlyphs" stroke="#414042" stroke-width="0.15">Snelweg</text>
<text x="407.5" y="759.0" font-size="5.9" fill="#414042" textLength="40.0" lengthAdjust="spacingAndGlyphs" stroke="#414042" stroke-width="0.15">(richting A35)</text>
</svg>
</body></html>
